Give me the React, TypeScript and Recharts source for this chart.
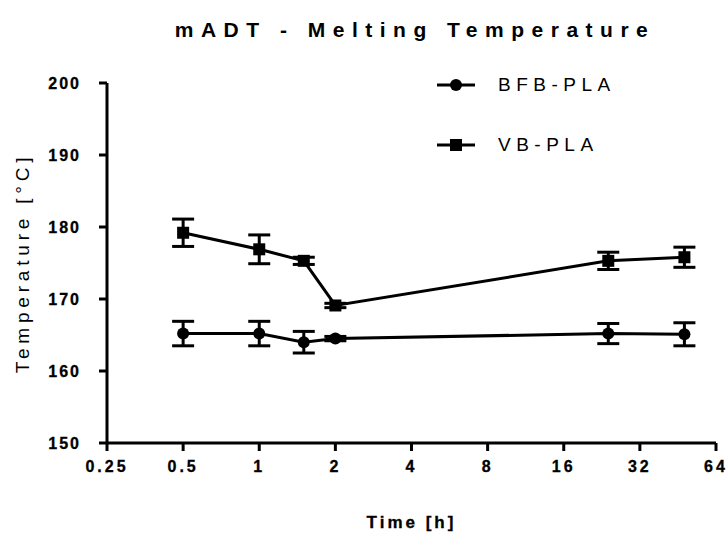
import {
  ErrorBar,
  Label,
  Line,
  LineChart,
  XAxis,
  YAxis,
} from 'recharts'

// melting temperature over ageing time, mean ± SD
const times = [0.5, 1, 1.5, 2, 24, 48]
const bfbMean = [165.2, 165.2, 164.0, 164.5, 165.2, 165.1]
const bfbSd = [1.7, 1.7, 1.5, 0.3, 1.4, 1.6]
const vbMean = [179.2, 176.9, 175.3, 169.1, 175.3, 175.8]
const vbSd = [1.9, 2.0, 0.5, 0.3, 1.2, 1.4]

const xTicks = [0.25, 0.5, 1, 2, 4, 8, 16, 32, 64]
const yTicks = [150, 160, 170, 180, 190, 200]

const FONT = '"Liberation Sans", Arial, Helvetica, sans-serif'
const INK = '#000'

const data = times.map((t, i) => ({
  t,
  bfb: bfbMean[i],
  bfbSd: bfbSd[i],
  vb: vbMean[i],
  vbSd: vbSd[i],
}))

const yTickStyle = {
  fill: INK,
  stroke: INK,
  strokeWidth: 0.3,
  fontSize: 16,
  fontWeight: 700,
  fontFamily: FONT,
  letterSpacing: 2,
}

const xTickStyle = { ...yTickStyle, letterSpacing: 3 }

function CircleDot({ cx, cy }: any) {
  if (cx == null || cy == null) return null
  return <circle cx={cx} cy={cy} r={6} fill={INK} />
}

function SquareDot({ cx, cy }: any) {
  if (cx == null || cy == null) return null
  return <rect x={cx - 6} y={cy - 6} width={12} height={12} fill={INK} />
}

function YTitle({ viewBox }: any) {
  const x = viewBox.x + 22
  const y = viewBox.y + viewBox.height / 2
  return (
    <text
      x={x}
      y={y}
      transform={`rotate(-90 ${x} ${y})`}
      textAnchor="middle"
      dominantBaseline="central"
      fontFamily={FONT}
      fontSize={19}
      letterSpacing={4.8}
      fill={INK}
    >
      Temperature [°C]
    </text>
  )
}

function XTitle({ viewBox }: any) {
  return (
    <text
      x={viewBox.x + viewBox.width / 2}
      y={viewBox.y + 85}
      textAnchor="middle"
      fontFamily={FONT}
      fontSize={17}
      fontWeight={700}
      letterSpacing={3}
      stroke={INK}
      strokeWidth={0.3}
      fill={INK}
    >
      Time [h]
    </text>
  )
}

function LegendRow({ label, square }: { label: string; square?: boolean }) {
  return (
    <div style={{ display: 'flex', alignItems: 'center', height: 60 }}>
      <svg width={40} height={14} style={{ marginRight: 22 }}>
        <line x1={1} y1={7} x2={39} y2={7} stroke={INK} strokeWidth={3} />
        {square ? (
          <rect x={14} y={1} width={12} height={12} fill={INK} />
        ) : (
          <circle cx={20} cy={7} r={6} fill={INK} />
        )}
      </svg>
      <span style={{ fontSize: 19, letterSpacing: 5.5 }}>{label}</span>
    </div>
  )
}

export default function App() {
  return (
    <div
      style={{
        position: 'absolute',
        left: 0,
        top: 0,
        width: 728,
        height: 539,
        background: '#fff',
        fontFamily: FONT,
        color: INK,
      }}
    >
      <div
        style={{
          position: 'absolute',
          left: 0,
          width: 830,
          top: 18,
          textAlign: 'center',
          fontSize: 21,
          fontWeight: 700,
          letterSpacing: 7.5,
        }}
      >
        mADT - Melting Temperature
      </div>

      <LineChart
        width={728}
        height={539}
        data={data}
        margin={{ top: 83, right: 12, bottom: 0, left: 0 }}
      >
        <XAxis
          dataKey="t"
          type="number"
          scale="log"
          domain={[0.25, 64]}
          ticks={xTicks}
          allowDataOverflow
          height={96}
          tick={xTickStyle}
          tickSize={8}
          tickMargin={10}
          axisLine={{ stroke: INK, strokeWidth: 3 }}
          tickLine={{ stroke: INK, strokeWidth: 3 }}
          interval={0}
        >
          <Label content={<XTitle />} />
        </XAxis>
        <YAxis
          type="number"
          domain={[150, 200]}
          ticks={yTicks}
          width={107}
          tick={yTickStyle}
          tickSize={8}
          tickMargin={18}
          axisLine={{ stroke: INK, strokeWidth: 3 }}
          tickLine={{ stroke: INK, strokeWidth: 3 }}
          interval={0}
        >
          <Label content={<YTitle />} />
        </YAxis>
        <Line
          dataKey="bfb"
          stroke={INK}
          strokeWidth={3}
          dot={<CircleDot />}
          activeDot={false}
          isAnimationActive={false}
        >
          <ErrorBar dataKey="bfbSd" direction="y" width={11} stroke={INK} strokeWidth={3} />
        </Line>
        <Line
          dataKey="vb"
          stroke={INK}
          strokeWidth={3}
          dot={<SquareDot />}
          activeDot={false}
          isAnimationActive={false}
        >
          <ErrorBar dataKey="vbSd" direction="y" width={11} stroke={INK} strokeWidth={3} />
        </Line>
      </LineChart>

      <div style={{ position: 'absolute', left: 436, top: 55 }}>
        <LegendRow label="BFB-PLA" />
        <LegendRow label="VB-PLA" square />
      </div>
    </div>
  )
}
